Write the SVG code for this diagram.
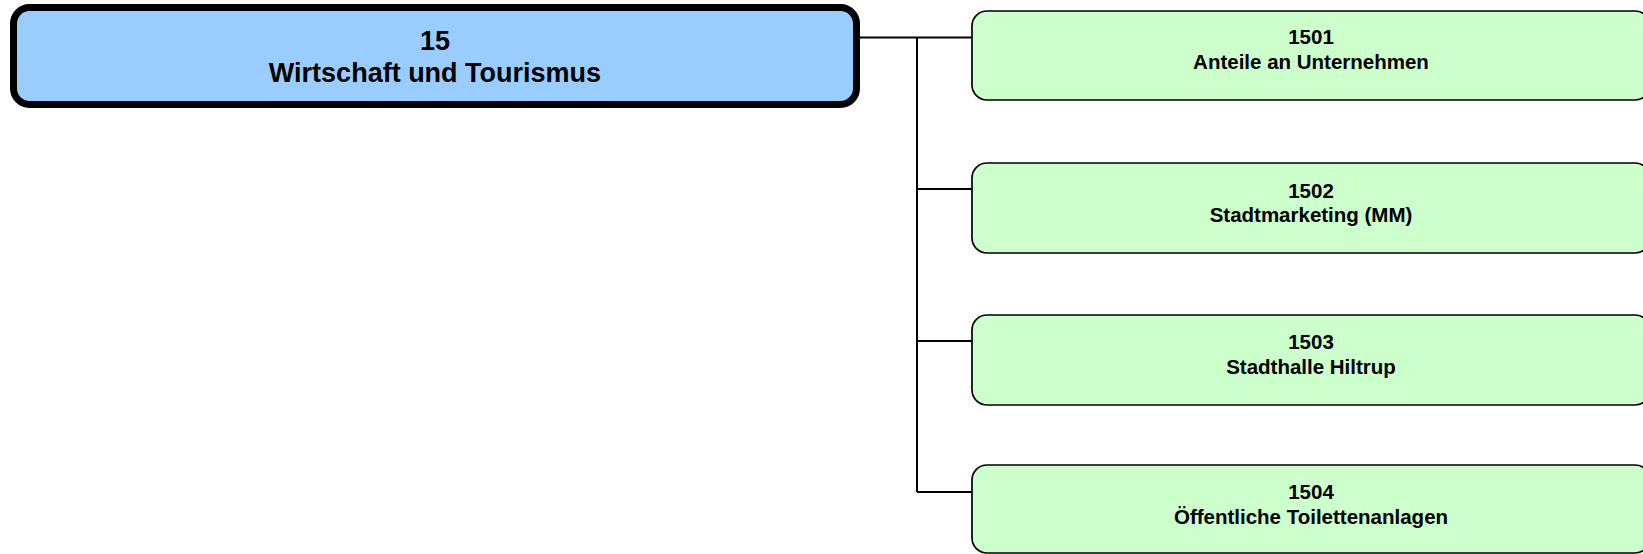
<svg xmlns="http://www.w3.org/2000/svg" width="1643" height="554" viewBox="0 0 1643 554">
<style>
.main{fill:#99CCFF;stroke:#000;stroke-width:7}
.leaf{fill:#CCFFCC;stroke:#000;stroke-width:1.7}
.t{font-family:"Liberation Sans",Arial,sans-serif;font-weight:bold;fill:#000;text-anchor:middle}
.tm{font-size:27px}
.tl{font-size:20.5px}
.c{fill:none;stroke:#000;stroke-width:2}
</style>
<rect width="1643" height="554" fill="#fff"/>
<g id="connectors">
<path class="c" d="M850 37.5H972M917 37.5V492M917 189H972M917 341H972M917 492H972"/>
</g>
<g id="n15">
<rect class="main" x="13.5" y="7.5" width="843" height="97" rx="16"/>
<text class="t tm" x="435" y="50">15</text>
<text class="t tm" x="435" y="82">Wirtschaft und Tourismus</text>
</g>
<g id="n1501">
<rect class="leaf" x="972" y="11" width="678" height="89" rx="15"/>
<text class="t tl" x="1311" y="44">1501</text>
<text class="t tl" x="1311" y="69">Anteile an Unternehmen</text>
</g>
<g id="n1502">
<rect class="leaf" x="972" y="163" width="678" height="90" rx="15"/>
<text class="t tl" x="1311" y="198">1502</text>
<text class="t tl" x="1311" y="222">Stadtmarketing (MM)</text>
</g>
<g id="n1503">
<rect class="leaf" x="972" y="315" width="678" height="90" rx="15"/>
<text class="t tl" x="1311" y="349">1503</text>
<text class="t tl" x="1311" y="374">Stadthalle Hiltrup</text>
</g>
<g id="n1504">
<rect class="leaf" x="972" y="465" width="678" height="88" rx="15"/>
<text class="t tl" x="1311" y="499">1504</text>
<text class="t tl" x="1311" y="524">Öffentliche Toilettenanlagen</text>
</g>
</svg>
